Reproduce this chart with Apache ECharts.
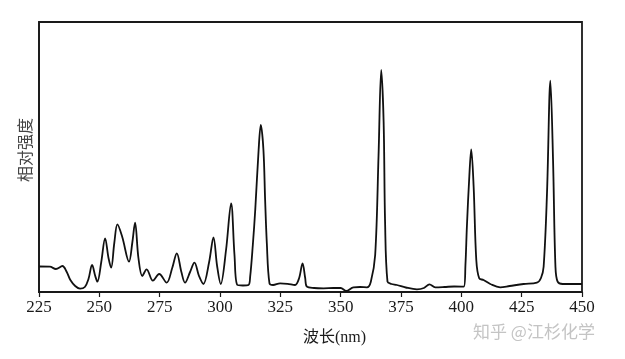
<!DOCTYPE html>
<html>
<head>
<meta charset="utf-8">
<script src="https://cdn.jsdelivr.net/npm/echarts@6/dist/echarts.min.js"></script>
<style>
html,body{margin:0;padding:0;background:#fff;}
#chart{width:625px;height:359px;}
</style>
</head>
<body>
<div id="chart"></div>
<script>
// Wavelength (nm) samples
const wavelengths = [
  225,229.5,232,234.7,236.5,238,240,242,244,245.5,247,248.3,249.2,250.8,252.4,253.8,254.9,256.2,257.5,259.5,
  262.3,263.7,264.8,266.2,267.8,269.6,272.2,274.8,277.9,280.2,282.1,284,285.5,287.6,289.4,291.3,293.1,295.5,297.3,298.8,
  300.3,302.5,304.6,306,307.2,309.5,311.8,312.5,313.6,314.6,316,316.9,318,318.7,319.4,320.5,322,324.9,328,331.1,
  332.8,334.2,335.3,336,339,342.9,347,350,352.3,355.3,358,360.9,362.5,364.3,365.7,366.8,367.8,368.4,369.4,371,
  373.3,377,381.6,384.5,386.8,389.2,393,397,401,401.7,402.3,403.3,404.1,405.1,406.2,407.4,409.2,412,416.1,420,
  425.8,431.3,433,434.1,435.5,436.9,438,439,439.9,442,446,450
];
// Relative intensity (arbitrary units) at each wavelength
const intensity = [
  25.5,25.3,23,26,20,12,6,3.3,5,13,27,16,10.3,30,53.7,34,24.3,49,67.7,55,
  30.3,50,69.3,34,16,22.7,11.3,18,9.3,24,38.7,20,9.3,20,29.3,16,8,30,54.7,26,
  8,42,88.7,37,7,6.5,7,15.3,47,82,142,167,142,92,49,8.7,7,8.7,8.2,7,
  14,28.7,14,5.3,4,3.7,4,4,1,4.7,5,4.7,10.3,37,137,222,170.3,70.3,10.3,8,
  7,4.5,2.7,4,7.7,4.7,5,5.5,5.3,27,65.3,115.3,142.7,105.3,32,13.7,12,8,4.7,6,
  8,9.3,14,25.3,99,211.3,132,25.3,10.3,8,8,8
];
const xTicks = [225,250,275,300,325,350,375,400,425,450];

const seriesData = wavelengths.map((w,i)=>[w,intensity[i]]);
const serif = '"Liberation Serif","DejaVu Serif","Noto Sans CJK SC",serif';

const chart = echarts.init(document.getElementById('chart'), null, {renderer:'canvas'});
chart.setOption({
  animation:false,
  backgroundColor:'#ffffff',
  grid:{left:39,right:43,top:22,bottom:67,show:true,borderColor:'#1a1a1a',borderWidth:1.8,backgroundColor:'transparent'},
  xAxis:{
    type:'value',min:xTicks[0],max:xTicks[xTicks.length-1],interval:25,
    axisLine:{show:true,lineStyle:{color:'#1a1a1a',width:1.6}},
    axisTick:{show:true,inside:false,length:5,lineStyle:{color:'#1a1a1a',width:1.2}},
    axisLabel:{color:'#1a1a1a',fontFamily:serif,fontSize:17,margin:7},
    splitLine:{show:false}
  },
  yAxis:{
    type:'value',min:0,max:270,
    axisLine:{show:true,lineStyle:{color:'#1a1a1a',width:1.6}},
    axisTick:{show:false},axisLabel:{show:false},splitLine:{show:false}
  },
  series:[{
    type:'line',data:seriesData,showSymbol:false,smooth:0.35,
    lineStyle:{color:'#111',width:1.8}
  }],
  graphic:[
    {type:'text',x:25,y:150,rotation:Math.PI/2,
     style:{text:'相对强度',fill:'#444',font:'16px "Noto Sans CJK SC"',align:'center',verticalAlign:'middle'}},
    {type:'text',x:303,y:338,
     style:{text:'波长(nm)',fill:'#1a1a1a',font:'16px '+serif,align:'left',verticalAlign:'middle'}},
    {type:'text',x:473,y:332,
     style:{text:'知乎 @江杉化学',fill:'#c4c4c4',font:'17px "Noto Sans CJK SC"',align:'left',verticalAlign:'middle'}}
  ]
});
</script>
</body>
</html>
